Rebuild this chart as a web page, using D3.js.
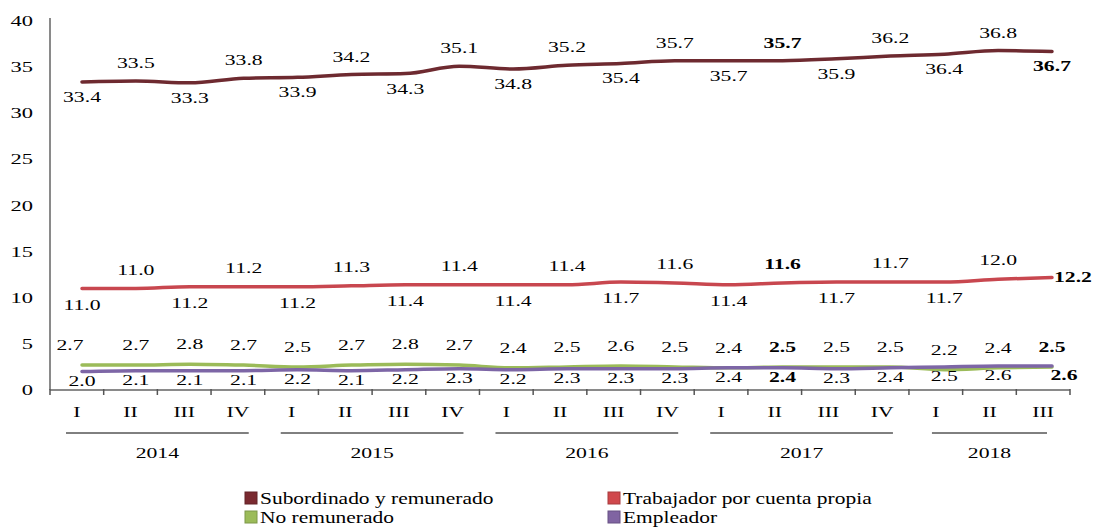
<!DOCTYPE html>
<html>
<head>
<meta charset="utf-8">
<script src="https://cdn.jsdelivr.net/npm/d3@7"></script>
<style>
  html, body { margin: 0; padding: 0; background: #fff; }
  svg { display: block; }
</style>
</head>
<body>
<svg id="chart" width="1094" height="529"></svg>
<script>
// ---- data ----
const quarters = ["I","II","III","IV","I","II","III","IV","I","II","III","IV","I","II","III","IV","I","II","III"];
const years = ["2014","2015","2016","2017","2018"];
const quartersPerYear = [4,4,4,4,3];
const yTicks = [0,5,10,15,20,25,30,35,40];

const seriesNames = ["Subordinado y remunerado","Trabajador por cuenta propia","No remunerado","Empleador"];
const subordinado = [33.4,33.5,33.3,33.8,33.9,34.2,34.3,35.1,34.8,35.2,35.4,35.7,35.7,35.7,35.9,36.2,36.4,36.8,36.7];
const trabajador  = [11.0,11.0,11.2,11.2,11.2,11.3,11.4,11.4,11.4,11.4,11.7,11.6,11.4,11.6,11.7,11.7,11.7,12.0,12.2];
const noRemunerado = [2.7,2.7,2.8,2.7,2.5,2.7,2.8,2.7,2.4,2.5,2.6,2.5,2.4,2.5,2.5,2.5,2.2,2.4,2.5];
const empleador    = [2.0,2.1,2.1,2.1,2.2,2.1,2.2,2.3,2.2,2.3,2.3,2.3,2.4,2.4,2.3,2.4,2.5,2.6,2.6];
const boldIdx = [13,18];

// ---- styles / layout ----
const FONT = "'Liberation Serif', 'Times New Roman', Times, 'DejaVu Serif', serif";
const colors = { sub: "#6e2a30", tra: "#c8474f", nor: "#9bbb59", emp: "#7d66a6" };
const legendColors = ["#7a2a30","#d0484c","#9bbb59","#8064a2"];
const SX = 1.4;     // horizontal stretch of text as in the reference
const FS = 15.5;

const svg = d3.select("#chart");
const plotLeft = 50, plotRight = 1070, plotTop = 21, plotBottom = 390;

const x = d3.scaleBand().domain(d3.range(quarters.length)).range([plotLeft, plotRight]).padding(0);
const xp = d3.scalePoint().domain(d3.range(quarters.length)).range([82, 1052]);
const y = d3.scaleLinear().domain([0, 40]).range([plotBottom, plotTop]);

function label(g, px, py, str, opts = {}) {
  return g.append("text")
    .attr("transform", `translate(${px},${py}) scale(${opts.sx || SX},1)`)
    .attr("text-anchor", opts.anchor || "middle")
    .attr("font-family", FONT)
    .attr("font-size", (opts.size || FS))
    .attr("font-weight", opts.bold ? "bold" : "normal")
    .attr("fill", "#000")
    .text(str);
}

// ---- axes ----
const axisG = svg.append("g");
axisG.append("line").attr("x1", plotLeft).attr("x2", plotLeft).attr("y1", y(40) - 3).attr("y2", plotBottom)
  .attr("stroke", "#8a8a8a").attr("stroke-width", 2);
yTicks.forEach(v => label(axisG, 33, y(v) + 5, String(v), { anchor: "end", sx: 1.45 }));

axisG.append("line").attr("x1", plotLeft).attr("x2", plotRight).attr("y1", plotBottom).attr("y2", plotBottom)
  .attr("stroke", "#8a8a8a").attr("stroke-width", 2);
const tickPos = d3.range(quarters.length).map(i => x(i)).concat([plotRight]);
axisG.selectAll("line.tick").data(tickPos).join("line")
  .attr("class", "tick")
  .attr("x1", d => d).attr("x2", d => d).attr("y1", plotBottom - 1).attr("y2", plotBottom + 5)
  .attr("stroke", "#555").attr("stroke-width", 1.5);
quarters.forEach((q, i) => label(axisG, x(i) + x.bandwidth() / 2, 417, q));

let start = 0;
years.forEach((yr, k) => {
  const n = quartersPerYear[k];
  const x0 = x(start), x1 = x(start + n - 1) + x.bandwidth();
  const inset = k === years.length - 1 ? 23 : 16;
  axisG.append("line").attr("x1", x0 + inset).attr("x2", x1 - inset).attr("y1", 433).attr("y2", 433)
    .attr("stroke", "#000").attr("stroke-width", 1);
  label(axisG, (x0 + x1) / 2, 458, yr);
  start += n;
});

// ---- lines ----
const lineGen = d3.line().x((d, i) => xp(i)).y(d => y(d)).curve(d3.curveMonotoneX);
const linesG = svg.append("g");
[[subordinado, colors.sub], [trabajador, colors.tra], [noRemunerado, colors.nor], [empleador, colors.emp]]
  .forEach(([data, c]) => {
    linesG.append("path").datum(data).attr("d", lineGen)
      .attr("fill", "none").attr("stroke", c).attr("stroke-width", 3.5)
      .attr("stroke-linejoin", "round").attr("stroke-linecap", "round");
  });

// ---- data labels ----
const labG = svg.append("g");
const fmt = d3.format(".1f");
subordinado.forEach((v, i) => {
  const below = i % 2 === 0;
  label(labG, xp(i), y(v) + (below ? 20 : -13), fmt(v), { bold: boldIdx.includes(i) });
});
trabajador.forEach((v, i) => {
  const last = i === trabajador.length - 1;
  if (last) {
    label(labG, xp(i) + 2, y(v) + 5, fmt(v), { bold: true, anchor: "start" });
    return;
  }
  const below = i % 2 === 0;
  label(labG, xp(i), y(v) + (below ? 21 : -14), fmt(v), { bold: boldIdx.includes(i) });
});
noRemunerado.forEach((v, i) => {
  const dx = i === 0 ? -12 : 0;
  label(labG, xp(i) + dx, y(v) - 15, fmt(v), { bold: boldIdx.includes(i) });
});
empleador.forEach((v, i) => {
  const dx = i === empleador.length - 1 ? 12 : 0;
  label(labG, xp(i) + dx, y(v) + 14, fmt(v), { bold: boldIdx.includes(i) });
});

// ---- legend ----
const legG = svg.append("g");
const legPos = [[245, 504], [608, 504], [245, 523], [608, 523]];
seriesNames.forEach((name, i) => {
  const [lx, ly] = legPos[i];
  legG.append("rect").attr("x", lx).attr("y", ly - 12).attr("width", 12).attr("height", 12)
    .attr("fill", legendColors[i]).attr("stroke", d3.color(legendColors[i]).darker(0.6)).attr("stroke-width", 1);
  label(legG, lx + 15, ly, name, { anchor: "start", size: 16.5, sx: 1.3 });
});
</script>
</body>
</html>
